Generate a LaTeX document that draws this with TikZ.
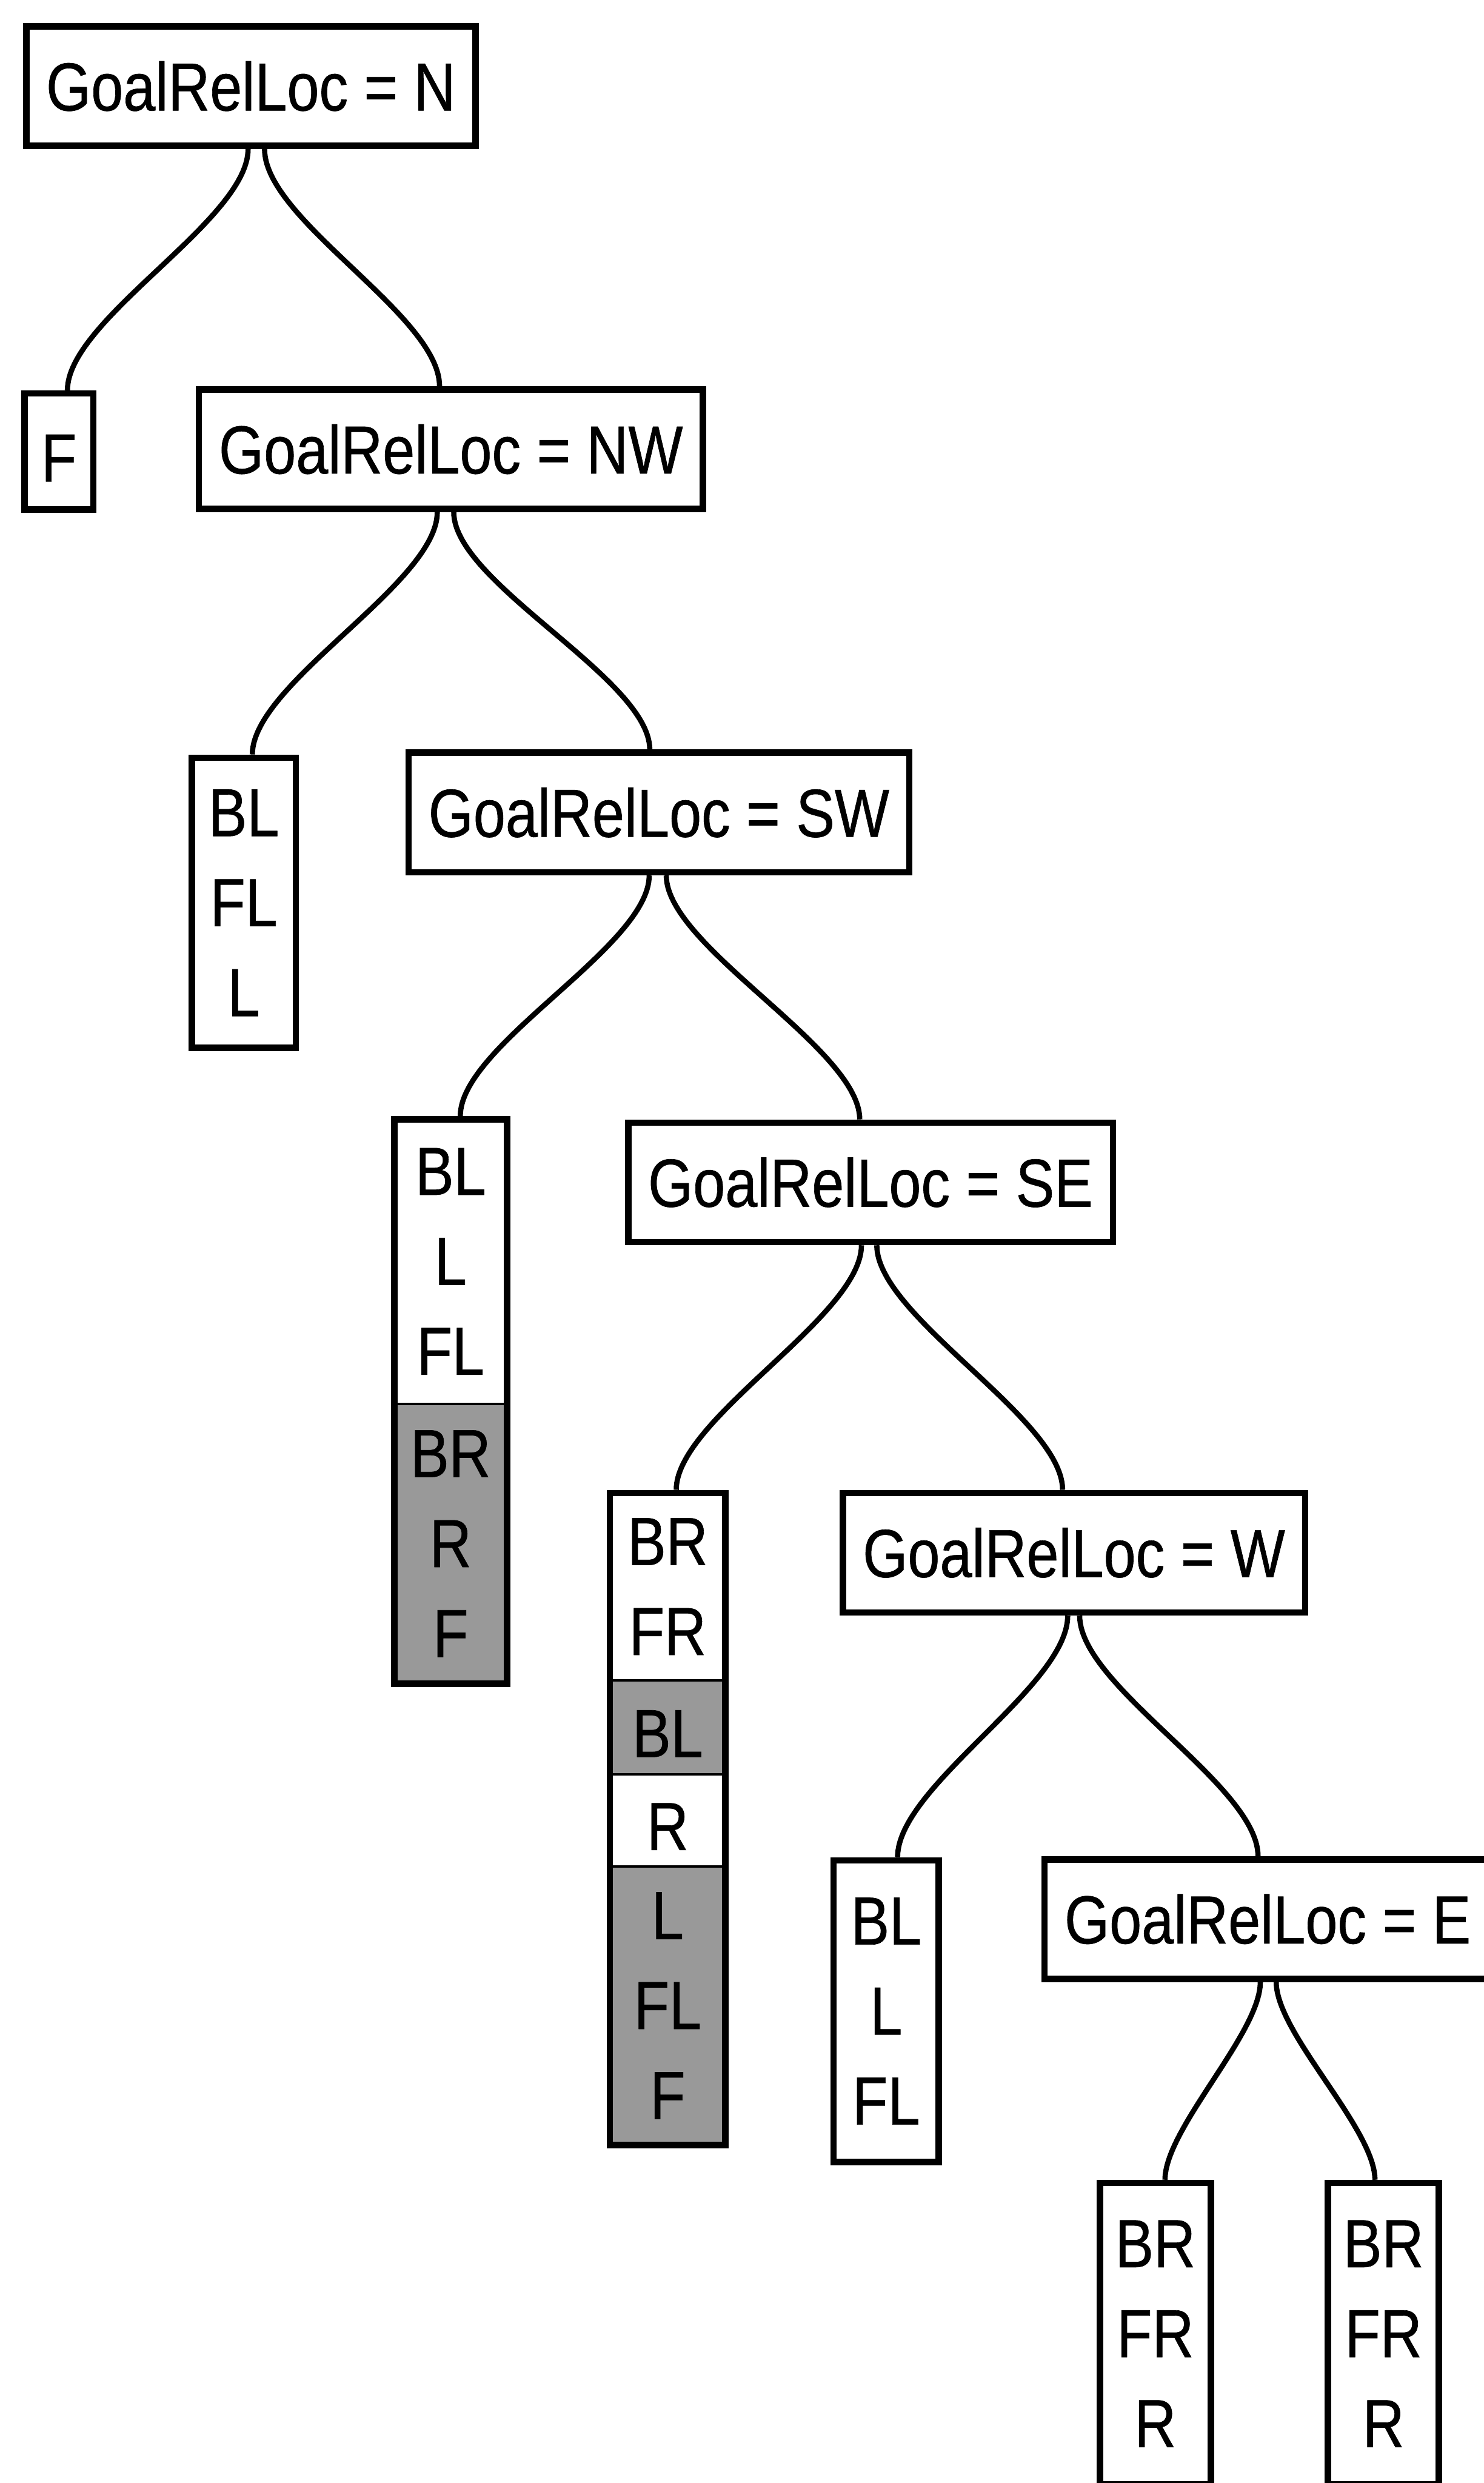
\documentclass[tikz,border=0pt]{standalone}
\usepackage{fontspec}
\setmainfont{Liberation Sans}[FakeStretch=0.85,FakeBold=0.6]
\usetikzlibrary{positioning,fit}

\begin{document}
\begin{tikzpicture}[
  font=\fontsize{34}{45}\selectfont,
  cond/.style={draw,line width=3.2pt,inner xsep=0.35cm,minimum height=2.1cm},
  leaf/.style={draw,line width=3.2pt,align=center,inner xsep=0.2cm,minimum width=1.95cm,execute at begin node={\rule{0pt}{1.05cm}}},
  sect/.style={leaf,line width=1.2pt,outer sep=0pt,minimum height=#1},
  hatch/.style={fill=black!40},
  box/.style={draw,line width=3.2pt,inner sep=0pt},
  branch/.style={line width=2.6pt,to path={.. controls +(0,-#1) and +(0,#1) .. (\tikztotarget)}},
  branch/.default=1.25
]
\path[use as bounding box,fill=white] (0,0) rectangle (26.08,-43.64);

% tests on the goal location
\node[cond] (n)  at (4.41,-1.515)  {GoalRelLoc = N};
\node[cond] (nw) at (7.925,-7.895) {GoalRelLoc = NW};
\node[cond] (sw) at (11.58,-14.28) {GoalRelLoc = SW};
\node[cond] (se) at (15.30,-20.78) {GoalRelLoc = SE};
\node[cond] (w)  at (18.875,-27.29) {GoalRelLoc = W};
\node[cond] (e)  at (22.28,-33.73) {GoalRelLoc = E};

% leaves
\node[leaf,minimum width=1.21cm,minimum height=2.04cm,anchor=north] (fwd) at (1.035,-6.86) {F};
\node[leaf,minimum width=1.83cm,minimum height=5.1cm,anchor=north] (left1) at (4.285,-13.26) {BL\\FL\\L};

\node[sect=5.0cm,minimum width=1.98cm,anchor=north] (mix1a) at (7.92,-19.67) {BL\\L\\FL};
\node[sect=4.92cm,minimum width=1.98cm,hatch,below=0pt of mix1a] (mix1b) {BR\\R\\F};
\node[box,fit=(mix1a)(mix1b)] (mix1) {};

\node[sect=3.29cm,minimum width=2.03cm,anchor=north] (mix2a) at (11.735,-26.24) {BR\\FR};
\node[sect=1.65cm,minimum width=2.03cm,hatch,below=0pt of mix2a] (mix2b) {BL};
\node[sect=1.62cm,minimum width=2.03cm,below=0pt of mix2b] (mix2c) {R};
\node[sect=4.9cm,minimum width=2.03cm,hatch,below=0pt of mix2c] (mix2d) {L\\FL\\F};
\node[box,fit=(mix2a)(mix2d)] (mix2) {};

\node[leaf,minimum width=1.85cm,minimum height=5.3cm,anchor=north] (left2) at (15.575,-32.64) {BL\\L\\FL};
\node[leaf,minimum height=5.3cm,anchor=north] (right1) at (20.305,-38.31) {BR\\FR\\R};
\node[leaf,minimum height=5.3cm,anchor=north] (right2) at (24.315,-38.31) {BR\\FR\\R};

% branches
\draw[branch] ([xshift=-0.05cm]n.south) to ([xshift=0.15cm]fwd.north);
\draw[branch] ([xshift=0.24cm]n.south) to ([xshift=-0.2cm]nw.north);
\draw[branch] ([xshift=-0.24cm]nw.south) to ([xshift=0.15cm]left1.north);
\draw[branch] ([xshift=0.05cm]nw.south) to ([xshift=-0.16cm]sw.north);
\draw[branch] ([xshift=-0.17cm]sw.south) to ([xshift=0.17cm]mix1.north);
\draw[branch] ([xshift=0.13cm]sw.south) to ([xshift=-0.19cm]se.north);
\draw[branch] ([xshift=-0.16cm]se.south) to ([xshift=0.15cm]mix2.north);
\draw[branch] ([xshift=0.11cm]se.south) to ([xshift=-0.2cm]w.north);
\draw[branch] ([xshift=-0.11cm]w.south) to ([xshift=0.2cm]left2.north);
\draw[branch] ([xshift=0.1cm]w.south) to ([xshift=-0.17cm]e.north);
\draw[branch=0.9] ([xshift=-0.13cm]e.south) to ([xshift=0.17cm]right1.north);
\draw[branch=0.9] ([xshift=0.15cm]e.south) to ([xshift=-0.15cm]right2.north);
\end{tikzpicture}
\end{document}
